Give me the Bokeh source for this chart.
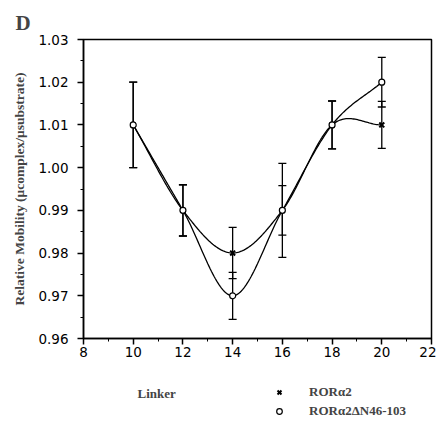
import numpy as np
from bokeh.plotting import figure
from bokeh.layouts import column
from bokeh.models import (FixedTicker, PrintfTickFormatter, Whisker, TeeHead,
                          ColumnDataSource, Title, Legend, LegendItem, Label, Range1d)
from bokeh.embed import file_html
from bokeh.resources import INLINE

# ---- data ----
linker = [10, 12, 14, 16, 18, 20]
ror_a2 = [1.01, 0.99, 0.98, 0.99, 1.01, 1.01]
ror_a2_err = [0.010, 0.006, 0.006, 0.011, 0.0056, 0.0055]
ror_dn = [1.01, 0.99, 0.97, 0.99, 1.01, 1.02]
ror_dn_err = [0.010, 0.006, 0.0055, 0.0058, 0.0056, 0.0058]
series_names = ["ROR\u03b12", "ROR\u03b12\u0394N46-103"]

x_ticks = [8, 10, 12, 14, 16, 18, 20, 22]
x_minor = [9, 11, 13, 15, 17, 19, 21]
y_ticks = [0.96, 0.97, 0.98, 0.99, 1.00, 1.01, 1.02, 1.03]
y_minor = [0.965, 0.975, 0.985, 0.995, 1.005, 1.015, 1.025]

SERIF = "Liberation Serif"
SANS = "DejaVu Sans"


def smooth(xs, ys, n=40):
    """Catmull-Rom style smooth path through the points (for drawing only)."""
    xs = np.asarray(xs, float)
    ys = np.asarray(ys, float)
    m = np.zeros_like(ys)
    m[1:-1] = (ys[2:] - ys[:-2]) / (xs[2:] - xs[:-2])
    m[0] = (ys[1] - ys[0]) / (xs[1] - xs[0])
    m[-1] = (ys[-1] - ys[-2]) / (xs[-1] - xs[-2])
    px, py = [], []
    for i in range(len(xs) - 1):
        h = xs[i + 1] - xs[i]
        t = np.linspace(0, 1, n, endpoint=(i == len(xs) - 2))
        h00 = 2 * t**3 - 3 * t**2 + 1
        h10 = t**3 - 2 * t**2 + t
        h01 = -2 * t**3 + 3 * t**2
        h11 = t**3 - t**2
        px.extend(xs[i] + t * h)
        py.extend(h00 * ys[i] + h10 * h * m[i] + h01 * ys[i + 1] + h11 * h * m[i + 1])
    return px, py


W = 436
FL, FR = 83, 431   # frame left / right on the page
p = figure(width=W, height=372, x_range=(8, 22), y_range=(0.96, 1.03),
           output_backend="svg", toolbar_location=None,
           min_border_left=FL, min_border_right=W - FR, min_border_top=39, min_border_bottom=34)
p.grid.visible = False
p.background_fill_color = "white"
p.border_fill_color = "white"
p.outline_line_color = "black"
p.outline_line_width = 1.5

for ax in (p.xaxis[0], p.yaxis[0]):
    ax.axis_line_width = 1.5
    ax.major_tick_line_width = 1.5
    ax.minor_tick_line_width = 1
    ax.major_tick_in = 0
    ax.major_tick_out = 6
    ax.minor_tick_in = 0
    ax.minor_tick_out = 3
    ax.major_label_text_font = SANS
    ax.major_label_text_font_size = "13.5px"
    ax.major_label_text_color = "black"

p.xaxis.ticker = FixedTicker(ticks=x_ticks, minor_ticks=x_minor)
p.yaxis.ticker = FixedTicker(ticks=y_ticks, minor_ticks=y_minor)
p.yaxis.formatter = PrintfTickFormatter(format="%.2f")
p.xaxis.major_label_standoff = 2
p.yaxis.major_label_standoff = 9

p.yaxis.axis_label = "Relative Mobility (\u03bccomplex/\u03bcsubstrate)"
p.yaxis.axis_label_text_font = SERIF
p.yaxis.axis_label_text_font_style = "bold"
p.yaxis.axis_label_text_font_size = "13.5px"
p.yaxis.axis_label_standoff = 8

# curves
cx, cy = smooth(linker, ror_a2)
p.line(cx, cy, line_color="black", line_width=1.3)
dx, dy = smooth(linker, ror_dn)
p.line(dx, dy, line_color="black", line_width=1.3)

# error bars
src_a = ColumnDataSource(dict(x=linker, y=ror_a2,
                              lo=[v - e for v, e in zip(ror_a2, ror_a2_err)],
                              hi=[v + e for v, e in zip(ror_a2, ror_a2_err)]))
src_d = ColumnDataSource(dict(x=linker, y=ror_dn,
                              lo=[v - e for v, e in zip(ror_dn, ror_dn_err)],
                              hi=[v + e for v, e in zip(ror_dn, ror_dn_err)]))
for s in (src_a, src_d):
    w = Whisker(source=s, base="x", lower="lo", upper="hi", dimension="height",
                line_color="black", line_width=1.3,
                lower_head=TeeHead(size=8, line_width=1.3, line_color="black"),
                upper_head=TeeHead(size=8, line_width=1.3, line_color="black"))
    p.add_layout(w)

style_a = dict(marker="x", size=7, line_color="black", line_width=2)
style_d = dict(marker="circle", size=6, fill_color="white", line_color="black", line_width=1.2)
p.scatter("x", "y", source=src_a, **style_a)
p.scatter("x", "y", source=src_d, **style_d)

p.add_layout(Title(text="D", text_font=SERIF, text_font_style="bold",
                   text_font_size="21px", align="left", offset=-68), "above")

# ---- bottom strip: x label + legend (x units = page pixels) ----
H2 = 54
p2 = figure(width=W, height=H2, x_range=Range1d(FL, FR), y_range=Range1d(0, H2),
            output_backend="svg", toolbar_location=None,
            min_border_left=FL, min_border_right=W - FR,
            min_border_top=0, min_border_bottom=0)
p2.axis.visible = False
p2.grid.visible = False
p2.outline_line_color = None
p2.background_fill_color = "white"
p2.border_fill_color = "white"

# legend glyph renderers (same data; they fall outside this strip's ranges, so only the legend shows them)
la = p2.scatter("x", "y", source=src_a, **style_a)
ld = p2.scatter("x", "y", source=src_d, **style_d)

legend = Legend(items=[LegendItem(label=series_names[0], renderers=[la]),
                       LegendItem(label=series_names[1], renderers=[ld])],
                location=(272 - FL, 7), orientation="vertical",
                border_line_color=None, background_fill_alpha=0,
                label_text_font=SERIF, label_text_font_style="bold",
                label_text_font_size="13px", glyph_width=14, glyph_height=14,
                label_standoff=23, spacing=3, padding=0, margin=0,
                label_height=14)
p2.add_layout(legend)

p2.add_layout(Label(x=137, y=33, text="Linker", text_font=SERIF, text_font_style="bold",
                    text_font_size="13px", text_align="left", text_baseline="middle"))

open("out.html", "w").write(file_html(column(p, p2, spacing=0), INLINE))
